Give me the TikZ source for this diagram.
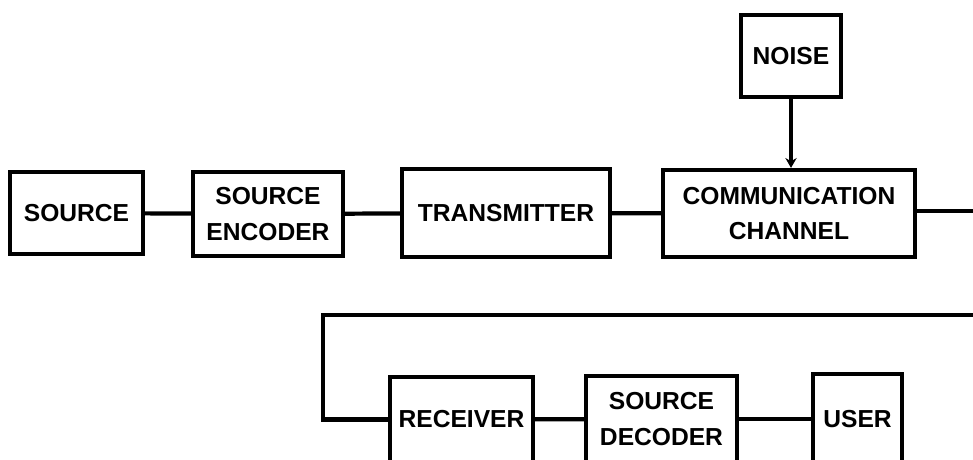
\documentclass[tikz,border=0pt]{standalone}
\usepackage{fontspec}
\newfontfamily\lettering{Liberation Sans}
\usepackage{tikz}
\usetikzlibrary{positioning}
\usetikzlibrary{arrows.meta}

\begin{document}
\begin{tikzpicture}[x=0.25mm, y=-0.25mm,
    block/.style={draw, line width=3pt, align=center, inner sep=2pt,
        font=\lettering\bfseries\fontsize{17.5}{25}\selectfont},
    wire/.style={line width=3pt}]
    % Frame of the page
    \clip (0,0) rectangle (973,459);
    \fill[white] (0,0) rectangle (973,459);

    % Sending side
    \node[block, minimum width=33.25mm, minimum height=20.5mm] (src) at (76.5,213) {SOURCE};
    \node[block, minimum width=37.5mm, minimum height=21mm] (enc) at (268,214) {SOURCE\\ENCODER};
    \node[block, minimum width=52mm, minimum height=22mm] (tx) at (506,213) {TRANSMITTER};
    \node[block, minimum width=63mm, minimum height=21.75mm] (chan) at (789,213.5) {COMMUNICATION\\CHANNEL};
    \node[block, minimum width=25mm, minimum height=20.5mm] (noise) at (791,56) {NOISE};

    % Receiving side
    \node[block, minimum width=35.75mm, minimum height=21.25mm] (rx) at (461.5,419.5) {RECEIVER};
    \node[block, minimum width=37.75mm, minimum height=21.5mm] (dec) at (661.5,419) {SOURCE\\DECODER};
    \node[block, minimum width=22.25mm, minimum height=22.5mm] (user) at (857.5,419) {USER};

    % Loop back, beyond the right edge
    \coordinate (edge) at (1000,211);
    \coordinate (bend) at (323,315);

    % Connectors
    \draw[wire] (src) -- (enc);
    \draw[wire] (enc) -- (tx);
    \draw[wire] (tx) -- (chan);
    \draw[wire, -{Stealth[length=7pt, width=8pt]}] (noise.south) -- (noise.south |- chan.north);
    \draw[wire] (chan.east |- edge) -- (edge) |- (bend) |- (rx.west);
    \draw[wire] (rx) -- (dec);
    \draw[wire] (dec) -- (user);
\end{tikzpicture}
\end{document}
